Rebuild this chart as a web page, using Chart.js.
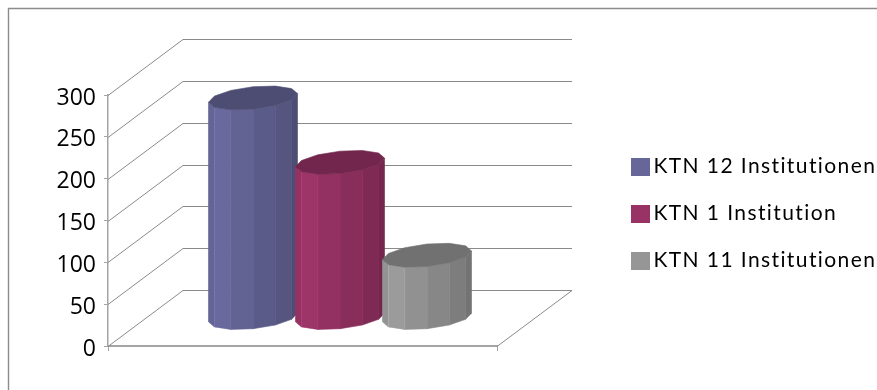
<!DOCTYPE html>
<html>
<head>
<meta charset="utf-8">
<style>
html, body { margin: 0; padding: 0; background: #fff; }
#wrap { width: 877px; height: 390px; }
</style>
<script src="https://cdn.jsdelivr.net/npm/chart.js@4/dist/chart.umd.min.js"></script>
</head>
<body>
<div id="wrap"><canvas id="chart" width="877" height="390"></canvas></div>
<script>
// Series and axis content
const categories = [''];
const seriesNames = ['KTN 12 Institutionen', 'KTN 1 Institution', 'KTN 11 Institutionen'];
const seriesValues = [[263], [186], [75]];
const sideColors = ['#666699', '#993366', '#969696'];
const yTickMax = 300;
const yTickStep = 50;

// Oblique projection of the 3D box: how far the back wall is shifted
const depthX = 75;
const depthY = -56;
const depthFill = 0.43;      // share of the floor depth a cylinder occupies
const facetCount = 12;
const gridColor = '#8a8a8a';

function shade(hex, f) {
  const n = parseInt(hex.slice(1), 16);
  const c = [n >> 16, (n >> 8) & 255, n & 255].map(v => Math.round(Math.min(255, v * f)));
  return `rgb(${c[0]},${c[1]},${c[2]})`;
}

// Walls, floor and slanted grid lines
const boxPlugin = {
  id: 'box3d',
  beforeDatasetsDraw(chart) {
    const { ctx, scales: { y } } = chart;
    const left = chart.chartArea.left, right = chart.chartArea.right;
    ctx.save();
    ctx.strokeStyle = gridColor;
    ctx.lineWidth = 1;
    y.ticks.forEach(t => {
      const py = Math.round(y.getPixelForValue(t.value)) + 0.5;
      ctx.beginPath();
      ctx.moveTo(left, py);
      ctx.lineTo(left + depthX, py + depthY);
      ctx.lineTo(right + depthX, py + depthY);
      ctx.stroke();
    });
    const by = Math.round(y.getPixelForValue(0)) + 0.5;
    ctx.beginPath();
    ctx.moveTo(right, by);
    ctx.lineTo(right + depthX, by + depthY);
    ctx.stroke();
    ctx.restore();
  },
  afterDatasetsDraw(chart) {
    const { ctx } = chart;
    chart.data.datasets.forEach((ds, i) => {
      const bar = chart.getDatasetMeta(i).data[0];
      drawCylinder(ctx, bar, sideColors[i]);
    });
  },
  beforeDraw(chart) {
    // Chart frame
    const { ctx, width, height } = chart;
    ctx.save();
    ctx.strokeStyle = '#8c8c8c';
    ctx.lineWidth = 1.4;
    ctx.beginPath();
    ctx.moveTo(8.5, height);
    ctx.lineTo(8.5, 8.5);
    ctx.lineTo(width, 8.5);
    ctx.stroke();
    ctx.restore();
  },
  afterLayout(chart) {
    // Legend sits to the right of the plot, clear of the depth of the box
    const lg = chart.legend;
    lg.left = 612; lg.right = chart.width;
    lg.top = 130; lg.bottom = chart.height;
    if (!lg.__spaced) {
      const draw = lg.draw;
      lg.draw = function (...a) {
        chart.ctx.save();
        chart.ctx.letterSpacing = '1.4px';
        draw.apply(this, a);
        chart.ctx.restore();
      };
      lg.__spaced = true;
    }
    // Value labels sit a little below their tick marks
    const ys = chart.scales.y;
    if (!ys.__shifted) {
      const labels = ys.drawLabels;
      ys.drawLabels = function (...a) {
        chart.ctx.save();
        chart.ctx.translate(0, 3);
        labels.apply(this, a);
        chart.ctx.restore();
      };
      ys.__shifted = true;
    }
  }
};

// One cylinder, built from the bar element's own geometry
function drawCylinder(ctx, bar, color) {
  const a = bar.width / 2;
  const bx = depthX / 2 * depthFill;
  const by = depthY / 2 * depthFill;
  const cx = bar.x + depthX / 2;
  const baseY = bar.base + depthY / 2;
  const topY = bar.y + depthY / 2;
  // point on the rim at angle t, skewed along the depth axis
  const px = t => cx + a * Math.cos(t) + bx * Math.sin(t);
  const py = (t, c) => c + by * Math.sin(t);
  const t0 = Math.atan2(bx, a);   // rightmost rim point
  const step = Math.PI / (facetCount / 2);
  ctx.save();
  // visible front side: from the left silhouette round to the right one
  for (let k = 0; k < facetCount / 2; k++) {
    const t1 = t0 - Math.PI + k * step, t2 = t1 + step;
    const s = (k + 0.5) / (facetCount / 2);
    // brightest a quarter of the way across, darkening to the right
    const f = s < 0.25 ? 0.95 + s * 0.32 : 1.03 - (s - 0.25) * 0.4;
    ctx.fillStyle = shade(color, f);
    ctx.strokeStyle = shade(color, f);
    ctx.lineWidth = 0.6;
    ctx.beginPath();
    ctx.moveTo(px(t1), py(t1, topY));
    ctx.lineTo(px(t2), py(t2, topY));
    ctx.lineTo(px(t2), py(t2, baseY));
    ctx.lineTo(px(t1), py(t1, baseY));
    ctx.closePath();
    ctx.fill();
    ctx.stroke();
    if (k > 0) {
      ctx.strokeStyle = shade(color, f * 1.16);
      ctx.lineWidth = 0.8;
      ctx.beginPath();
      ctx.moveTo(px(t1), py(t1, topY));
      ctx.lineTo(px(t1), py(t1, baseY));
      ctx.stroke();
    }
  }
  // top cap
  const capColor = shade(color, 0.75);
  ctx.fillStyle = capColor;
  ctx.strokeStyle = capColor;
  ctx.lineWidth = 0.6;
  ctx.beginPath();
  for (let k = 0; k < facetCount; k++) {
    const t = t0 + k * step;
    if (k === 0) ctx.moveTo(px(t), py(t, topY)); else ctx.lineTo(px(t), py(t, topY));
  }
  ctx.closePath();
  ctx.fill();
  ctx.stroke();
  ctx.restore();
}

// Square swatches for the legend, drawn as point styles so the label can sit close
function swatch(color) {
  const c = document.createElement('canvas');
  c.width = 19; c.height = 18;
  const g = c.getContext('2d');
  g.fillStyle = color;
  g.fillRect(0, 0, 19, 18);
  return c;
}

new Chart(document.getElementById('chart'), {
  type: 'bar',
  data: {
    labels: categories,
    datasets: seriesNames.map((name, i) => ({
      label: name,
      data: seriesValues[i],
      backgroundColor: 'rgba(0,0,0,0)',
      borderWidth: 0,
      categoryPercentage: 0.671,
      barPercentage: 0.954
    }))
  },
  options: {
    responsive: false,
    animation: false,
    layout: { padding: { left: 0, top: 95, right: 380, bottom: 39 } },
    plugins: {
      tooltip: { enabled: false },
      title: { display: false },
      legend: {
        position: 'chartArea',
        align: 'start',
        labels: {
          usePointStyle: true,
          boxWidth: 5,
          boxHeight: 18,
          padding: 26,
          color: '#000',
          font: { family: 'Lato', size: 21 },
          generateLabels(chart) {
            return Chart.defaults.plugins.legend.labels.generateLabels(chart).map((it, i) => {
              it.pointStyle = swatch(sideColors[i]);
              return it;
            });
          }
        }
      }
    },
    scales: {
      x: {
        offset: true,
        grid: { offset: true, drawOnChartArea: false, tickLength: 5, color: '#a4a4a4', lineWidth: 1 },
        border: { color: '#a4a4a4', width: 2 },
        ticks: { display: false }
      },
      y: {
        min: 0,
        max: yTickMax,
        afterFit(axis) { axis.width = 108; },
        grid: { drawOnChartArea: false, tickLength: 4, color: '#a4a4a4', lineWidth: 1 },
        border: { color: '#a4a4a4', width: 1.5 },
        ticks: {
          stepSize: yTickStep,
          padding: 8,
          color: '#000',
          font: { family: 'Open Sans', size: 23 }
        }
      }
    }
  },
  plugins: [boxPlugin]
});
</script>
</body>
</html>
